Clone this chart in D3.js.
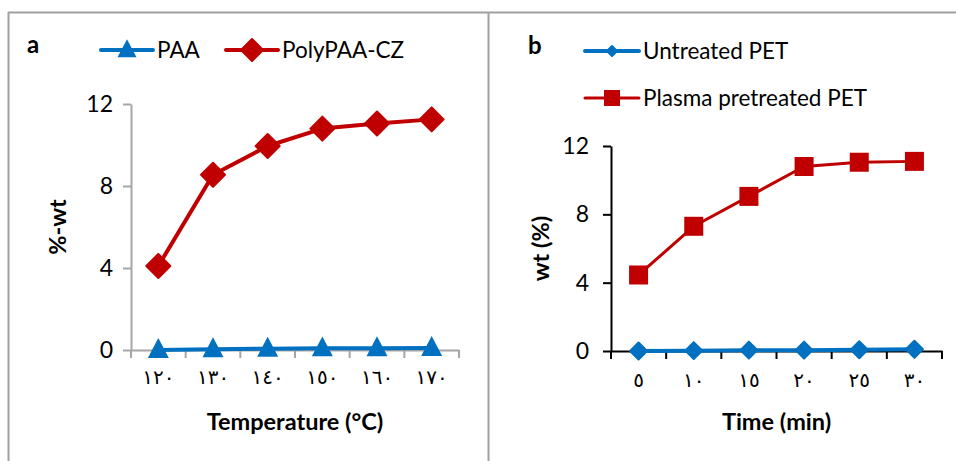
<!DOCTYPE html>
<html><head><meta charset="utf-8">
<script src="https://cdn.jsdelivr.net/npm/d3@7"></script>
<style>
html,body{margin:0;padding:0;background:#fff;}
svg{display:block;font-family:Lato,"DejaVu Sans",sans-serif;}
</style></head>
<body>
<svg id="c" width="956" height="461"></svg>
<script>
// Panel a
const tempCats = ["١٢٠","١٣٠","١٤٠","١٥٠","١٦٠","١٧٠"];
const paaVals = [0.0, 0.04, 0.06, 0.08, 0.09, 0.1];
const polyVals = [4.1, 8.55, 9.95, 10.8, 11.05, 11.25];
// Panel b
const timeCats = ["٥","١٠","١٥","٢٠","٢٥","٣٠"];
const untreatedVals = [0.0, 0.02, 0.05, 0.05, 0.07, 0.1];
const plasmaVals = [4.45, 7.3, 9.05, 10.8, 11.05, 11.1];
const yTicks = [0, 4, 8, 12];

const RED = "#C00000", BLUE = "#0070C0";
const svg = d3.select("#c");

// frame lines
svg.append("line").attr("x1",8).attr("x2",956).attr("y1",12.5).attr("y2",12.5).attr("stroke","#a0a0a0").attr("stroke-width",2);
svg.append("line").attr("x1",8.5).attr("x2",8.5).attr("y1",12).attr("y2",461).attr("stroke","#a0a0a0").attr("stroke-width",2);
svg.append("line").attr("x1",488.5).attr("x2",488.5).attr("y1",12).attr("y2",461).attr("stroke","#a0a0a0").attr("stroke-width",2);

function marker(g, type, size, color){
  if(type==="triangle"){
    const w=size, h=size*0.95;
    g.append("path").attr("d",`M0,${-h*0.6}L${w/2},${h*0.4}L${-w/2},${h*0.4}Z`).attr("fill",color);
  } else if(type==="diamond"){
    const s=size/2;
    g.append("path").attr("d",`M0,${-s}L${s},0L0,${s}L${-s},0Z`).attr("fill",color)
      .attr("stroke",color).attr("stroke-width",2).attr("stroke-linejoin","round");
  } else if(type==="square"){
    g.append("rect").attr("x",-size/2).attr("y",-size/2).attr("width",size).attr("height",size).attr("fill",color);
  }
}

function panel(cfg){
  const x = d3.scaleBand().domain(cfg.cats).range(cfg.xr).padding(0);
  const y = d3.scaleLinear().domain([0,12]).range(cfg.yr);
  const g = svg.append("g");
  // y axis
  const ya = g.append("g").attr("transform",`translate(${cfg.xr[0]},0)`)
    .call(d3.axisLeft(y).tickValues(yTicks).tickSize(8).tickPadding(cfg.ypad).tickSizeOuter(0));
  ya.selectAll("path,line").attr("stroke",cfg.axisColor).attr("stroke-width",2);
  ya.selectAll("text").attr("font-size",23).attr("fill","#000").attr("font-family","Lato,sans-serif");
  // x axis
  const xa = g.append("g").attr("transform",`translate(0,${cfg.yr[0]})`)
    .call(d3.axisBottom(x).tickSize(0).tickPadding(cfg.xpad).tickSizeOuter(0));
  xa.select("path").attr("stroke",cfg.axisColor).attr("stroke-width",2);
  xa.selectAll("text").attr("font-size",20).attr("fill","#000").attr("font-family","'DejaVu Sans',sans-serif").attr("letter-spacing","5px");
  // boundary ticks
  const bounds = cfg.cats.map(c=>x(c)).concat([x(cfg.cats[cfg.cats.length-1])+x.bandwidth()]);
  g.selectAll(".bt").data(bounds).join("line").attr("x1",d=>d).attr("x2",d=>d)
    .attr("y1",cfg.yr[0]).attr("y2",cfg.yr[0]+8).attr("stroke",cfg.axisColor).attr("stroke-width",2);
  // series
  cfg.series.forEach(s=>{
    const line = d3.line().x((d,i)=>x(cfg.cats[i])+x.bandwidth()/2).y(d=>y(d));
    g.append("path").datum(s.vals).attr("d",line).attr("fill","none").attr("stroke",s.color).attr("stroke-width",s.lw).attr("stroke-linejoin","round");
    s.vals.forEach((v,i)=>{
      const mg = g.append("g").attr("transform",`translate(${x(cfg.cats[i])+x.bandwidth()/2},${y(v)})`);
      marker(mg, s.type, s.size, s.color);
    });
    // legend
    const lg = svg.append("g");
    lg.append("line").attr("x1",s.lx[0]).attr("x2",s.lx[1]).attr("y1",s.ly).attr("y2",s.ly).attr("stroke",s.color).attr("stroke-width",s.lw).attr("stroke-linecap","round");
    const lm = lg.append("g").attr("transform",`translate(${(s.lx[0]+s.lx[1])/2},${s.ly})`);
    marker(lm, s.type, s.lsize, s.color);
    lg.append("text").attr("x",s.lx[1]+4).attr("y",s.ly+8).attr("font-size",22.5).text(s.name);
  });
  // titles
  svg.append("text").attr("x",(cfg.xr[0]+cfg.xr[1])/2).attr("y",430).attr("text-anchor","middle")
    .attr("font-size",23.5).attr("font-weight","bold").text(cfg.xtitle);
  svg.append("text").attr("transform",`translate(${cfg.ytx},${(cfg.yr[0]+cfg.yr[1])/2}) rotate(-90)`)
    .attr("text-anchor","middle").attr("font-size",23.5).attr("font-weight","bold").text(cfg.ytitle);
  svg.append("text").attr("x",cfg.lab[0]).attr("y",cfg.lab[1]).attr("font-size",24).attr("font-weight","bold").text(cfg.label);
}

panel({
  cats: tempCats, xr:[131,459], yr:[350,104], axisColor:"#a6a6a6", ypad:10, xpad:20,
  xtitle:"Temperature (°C)", ytitle:"%-wt", ytx:66, label:"a", lab:[27,53],
  series:[
    {name:"PAA", vals:paaVals, color:BLUE, type:"triangle", size:21, lsize:19, lw:4, lx:[101,153], ly:50},
    {name:"PolyPAA-CZ", vals:polyVals, color:RED, type:"diamond", size:24, lsize:22, lw:4, lx:[226,278], ly:50}
  ]
});
panel({
  cats: timeCats, xr:[611,942], yr:[351,146], axisColor:"#000", ypad:14, xpad:22,
  xtitle:"Time (min)", ytitle:"wt (%)", ytx:549, label:"b", lab:[528,54],
  series:[
    {name:"Untreated PET", vals:untreatedVals, color:BLUE, type:"diamond", size:17, lsize:10, lw:4, lx:[585,639], ly:51},
    {name:"Plasma pretreated PET", vals:plasmaVals, color:RED, type:"square", size:19, lsize:16, lw:3, lx:[585,639], ly:98}
  ]
});
</script>
</body></html>
